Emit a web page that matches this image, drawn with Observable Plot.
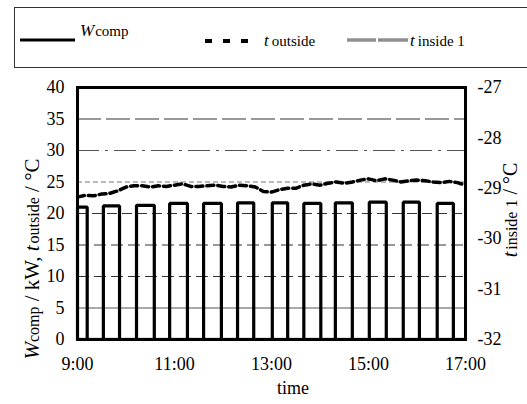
<!DOCTYPE html>
<html><head><meta charset="utf-8">
<script src="https://cdn.jsdelivr.net/npm/d3@7"></script>
<script src="https://cdn.jsdelivr.net/npm/@observablehq/plot@0.6"></script>
<style>
body{margin:0;background:#fff;}
#wrap{position:relative;width:527px;height:404px;font-family:'Liberation Serif';}
#chart,#over{position:absolute;left:0;top:0;}
#over{pointer-events:none;}
#over text{font-family:'Liberation Serif';}
#chart svg text{font-family:'Liberation Serif' !important;}
</style></head><body>
<div id="wrap"><div id="chart"></div>
<svg id="over" width="527" height="404">
  <rect x="14.5" y="7.5" width="530" height="60" fill="none" stroke="#333" stroke-width="1"/>
  <line x1="20" x2="75" y1="40" y2="40" stroke="#000" stroke-width="3"/>
  <text x="80" y="36" font-size="17"><tspan font-style="italic">W</tspan><tspan font-size="15" dx="1">comp</tspan></text>
  <line x1="205" x2="251" y1="41" y2="41" stroke="#000" stroke-width="4" stroke-dasharray="7,11"/>
  <text x="264" y="46" font-size="17"><tspan font-style="italic">t</tspan><tspan font-size="15" dx="3">outside</tspan></text>
  <line x1="347" x2="376" y1="40" y2="40" stroke="#909090" stroke-width="3.5"/>
  <line x1="378" x2="408" y1="40" y2="40" stroke="#909090" stroke-width="3.5"/>
  <text x="410" y="46" font-size="17"><tspan font-style="italic">t</tspan><tspan font-size="15" dx="3">inside 1</tspan></text>
  <text transform="translate(39,259) rotate(-90)" text-anchor="middle" font-size="21"><tspan font-style="italic">W</tspan><tspan font-size="16">comp</tspan><tspan> / kW, </tspan><tspan font-style="italic">t</tspan><tspan font-size="16" dx="2">outside</tspan><tspan> / °C</tspan></text>
  <text transform="translate(517,210) rotate(-90)" text-anchor="middle" font-size="20"><tspan font-style="italic">t</tspan><tspan font-size="16" dx="2">inside 1</tspan><tspan> / °C</tspan></text>
  <text x="293" y="394" text-anchor="middle" font-size="18">time</text>
</svg>
</div>
<script>
// compressor cycles (time on, time off, power level kW)
const compOn    = ["9:00","9:32","10:13","10:54","11:36","12:18","13:01","13:40","14:19","15:01","15:43","16:25"];
const compOff   = ["9:12","9:52","10:35","11:16","11:58","12:38","13:20","14:01","14:40","15:22","16:03","16:45"];
const compLevel = [21.0, 21.2, 21.3, 21.6, 21.6, 21.7, 21.7, 21.6, 21.7, 21.8, 21.8, 21.6];

// outside temperature
const outTimes = ["9:00","9:10","9:20","9:30","9:40","9:50","10:00","10:10","10:20","10:30","10:40","10:50","11:00","11:10","11:20","11:30","11:40","11:50","12:00","12:10","12:20","12:30","12:40","12:50","13:00","13:10","13:20","13:30","13:40","13:50","14:00","14:10","14:20","14:30","14:40","14:50","15:00","15:10","15:20","15:30","15:40","15:50","16:00","16:10","16:20","16:30","16:40","16:50","17:00"];
const outTemp  = [22.6,22.9,22.8,23.1,23.2,23.6,24.2,24.4,24.4,24.2,24.4,24.3,24.5,24.7,24.3,24.3,24.4,24.5,24.3,24.2,24.5,24.4,24.2,23.5,23.4,23.8,24.0,24.0,24.5,24.7,24.5,24.8,25.0,24.8,25.0,25.3,25.5,25.2,25.5,25.3,25.0,25.2,25.3,25.2,25.0,24.9,25.1,24.9,24.5];

// inside temperature (right axis) - lies on the lower axis limit, hidden by the frame
const inTimes = ["9:00","11:00","13:00","15:00","17:00"];
const inTemp  = [-32.0,-32.0,-32.0,-32.0,-32.0];

const gridLevels = [5,10,15,20,25,30,35];
const gridDash   = {5:null,10:"12,5",15:"12,5",20:"10,5",25:"5,3",30:"22,6,3,6",35:"24,5"};
const gridColor  = {5:"#555",10:"#333",15:"#333",20:"#333",25:"#777",30:"#555",35:"#333"};

const hr = s => { const [a,b] = s.split(":"); return +a + (+b)/60; };

const compRows = [];
compOn.forEach((on,i) => {
  compRows.push({t:hr(on), w:0});
  compRows.push({t:hr(on), w:compLevel[i]});
  compRows.push({t:hr(compOff[i]), w:compLevel[i]});
  compRows.push({t:hr(compOff[i]), w:0});
});
compRows.push({t:17, w:0});

const outRows = outTimes.map((t,i) => ({t:hr(t), v:outTemp[i]}));
const inRows  = inTimes.map((t,i) => ({t:hr(t), v:inTemp[i]}));
const toLeft = v => (v + 32) * 8;  // right axis -32..-27 onto 0..40

const plot = Plot.plot({
  width: 527, height: 404,
  marginLeft: 77, marginRight: 62, marginTop: 87, marginBottom: 65,
  style: {fontFamily: "Liberation Serif", fontSize: "18px", color: "#000", background: "transparent"},
  x: {domain: [9, 17]},
  y: {domain: [0, 40]},
  marks: [
    ...gridLevels.map(g => Plot.ruleY([g], {stroke: gridColor[g], strokeWidth: 1, strokeDasharray: gridDash[g]})),
    Plot.line(inRows, {x: "t", y: d => toLeft(d.v), stroke: "#888", strokeWidth: 3.5, clip: true}),
    Plot.line(outRows, {x: "t", y: "v", stroke: "#000", strokeWidth: 3.5, strokeDasharray: "7,4"}),
    Plot.line(compRows, {x: "t", y: "w", stroke: "#000", strokeWidth: 3.2, strokeLinejoin: "miter"}),
    Plot.frame({stroke: "#000", strokeWidth: 3}),
    Plot.axisY({ticks: d3.range(0, 41, 5), tickSize: 0, tickPadding: 13, label: null, fontSize: 18}),
    Plot.axisY({anchor: "right", ticks: [0, 8, 16, 24, 32, 40], tickFormat: v => String(v / 8 - 32), tickSize: 0, tickPadding: 12, label: null, fontSize: 18}),
    Plot.axisX({ticks: [9, 11, 13, 15, 17], tickFormat: d => `${d}:00`, tickSize: 0, tickPadding: 18, label: null, fontSize: 18})
  ]
});
document.getElementById("chart").appendChild(plot);
</script>
</body></html>
